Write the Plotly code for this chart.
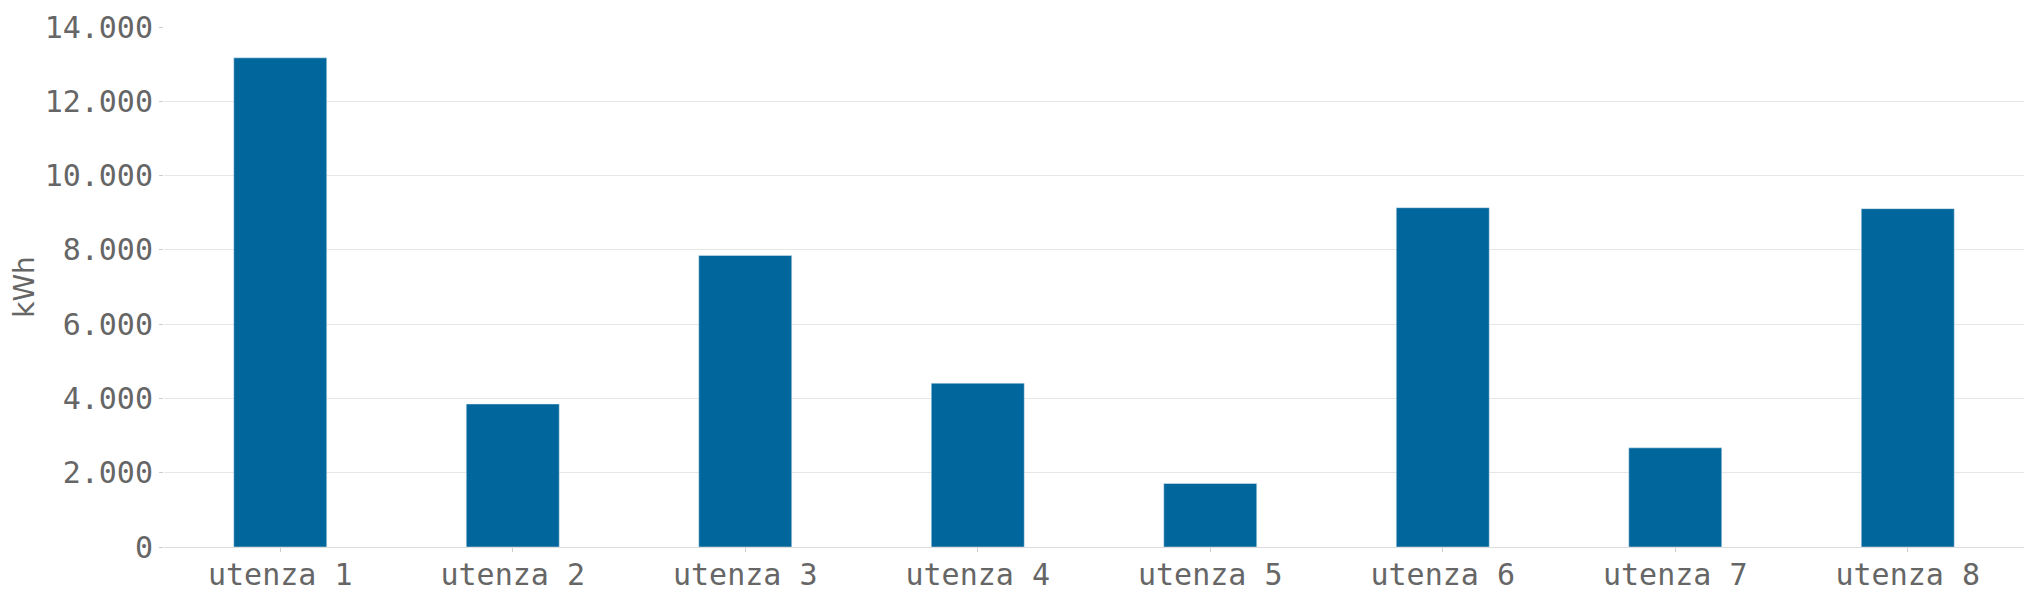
import plotly.graph_objects as go

categories = ["utenza 1", "utenza 2", "utenza 3", "utenza 4", "utenza 5", "utenza 6", "utenza 7", "utenza 8"]
values = [13170, 3850, 7850, 4410, 1710, 9135, 2670, 9110]
tick_vals = [0, 2000, 4000, 6000, 8000, 10000, 12000, 14000]
tick_text = ["0", "2.000", "4.000", "6.000", "8.000", "10.000", "12.000", "14.000"]

fig = go.Figure(go.Bar(x=categories, y=values, marker_color="#00669b", width=0.4))

# page body has an 8px default margin; figure sized to fit the window
fig.update_layout(
    width=2025, height=589,
    margin=dict(l=156, r=9, t=19, b=50),
    plot_bgcolor="white", paper_bgcolor="white",
    showlegend=False,
    font=dict(family="DejaVu Sans Mono", color="#666666", size=30),
)
fig.update_xaxes(
    automargin=False,
    showgrid=False, ticks="outside", ticklen=4, tickcolor="#cccccc",
    tickfont=dict(family="DejaVu Sans Mono", size=30, color="#666666"),
    ticklabelstandoff=-3,
    showline=True, linecolor="#dddddd", linewidth=1,
)
fig.update_yaxes(
    automargin=False,
    range=[0, 14000], tickvals=tick_vals, ticktext=tick_text,
    showgrid=True, gridcolor="#e6e6e6", gridwidth=1,
    zeroline=False, ticks="outside", ticklen=4, tickcolor="#cccccc",
    tickfont=dict(family="DejaVu Sans Mono", size=30, color="#666666"),
    title=dict(text="kWh", font=dict(family="DejaVu Sans", size=28, color="#666666"), standoff=4),
)
fig.write_html("out.html")
